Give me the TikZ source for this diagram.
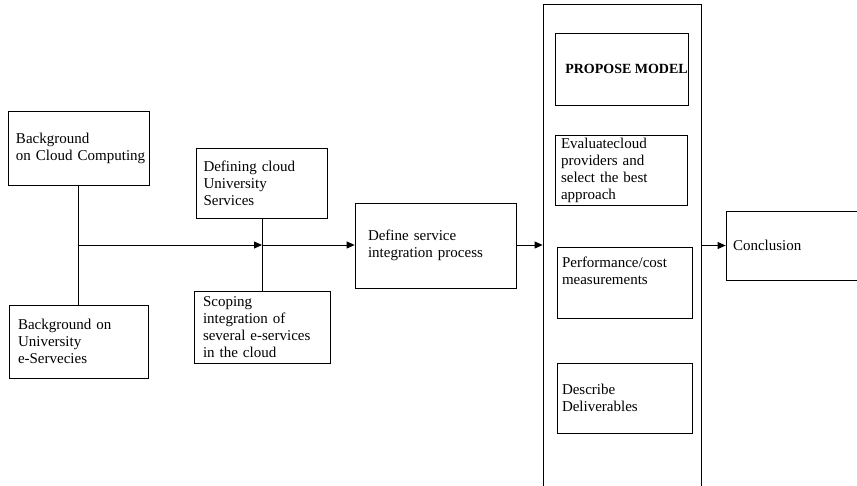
\documentclass[tikz,border=0pt]{standalone}
\usepackage{fontspec}
\setmainfont{Liberation Serif}
\usetikzlibrary{arrows.meta,calc}
\tikzset{
  box/.style={draw, line width=0.8pt, align=left, inner ysep=2pt,
    font=\fontsize{15}{17}\selectfont},
  arr/.style={line width=0.8pt, -{Triangle[length=8pt,width=7pt]}},
  ln/.style={line width=0.8pt}
}
\begin{document}
\begin{tikzpicture}[x=1pt,y=-1pt]
\useasboundingbox[fill=white] (0,0) rectangle (857,485);
% left column
\node[box, minimum width=141, minimum height=74, text width=125, inner xsep=8] (bcc) at (78.5,148) {Background\\\mbox{on Cloud Computing}};
\node[box, minimum width=139, minimum height=73, text width=121, inner xsep=9] (bue) at (78.5,341.5) {Background on\\University\\e-Servecies};
% second column
\node[box, minimum width=131, minimum height=70, text width=117, inner xsep=7] (dcus) at (262,183) {Defining cloud\\University\\Services};
\node[box, minimum width=136, minimum height=72, text width=118, inner xsep=9] (scope) at (262,327) {Scoping\\integration of\\several e-services\\in the cloud};
% define service
\node[box, minimum width=161, minimum height=85, text width=135, inner xsep=13] (dsip) at (435.5,245.5) {Define service\\integration process};
% propose model column
\node[box, minimum width=158, minimum height=501, inner sep=0pt] (pm) at (622,254.5) {};
\node[box, minimum width=133, minimum height=72, inner xsep=0pt, align=center,
  font=\fontsize{14}{16}\selectfont\bfseries] (prop) at (621.5,69) {\hspace*{10pt}PROPOSE MODEL};
\node[box, minimum width=132, minimum height=70, text width=120, inner xsep=6] (eval) at (621,170) {Evaluatecloud\\providers and\\select the best\\approach};
\node[box, minimum width=135, minimum height=71, text width=125, inner xsep=5] (perf) at (624.5,282.5) {Performance/cost\\measurements\\[6pt]\mbox{}};
\node[box, minimum width=135, minimum height=70, text width=125, inner xsep=5] (desc) at (624.5,398) {Describe\\Deliverables};
% conclusion
\node[box, minimum width=154, minimum height=69, text width=140, inner xsep=7] (conc) at (803,245.5) {Conclusion};
% connectors
\draw[ln] (bcc.south) -- (bue.north);
\draw[ln] (dcus.south) -- (scope.north);
\coordinate (j1) at (bcc.south |- 0,245);
\coordinate (j2) at (dcus.south |- 0,245);
\draw[arr] (j1) -- (j2);
\draw[arr] (j2) -- (dsip.west |- j2);
\draw[arr] (dsip.east |- j2) -- (pm.west |- j2);
\draw[arr] (pm.east |- conc.west) -- (conc.west);
\end{tikzpicture}
\end{document}
